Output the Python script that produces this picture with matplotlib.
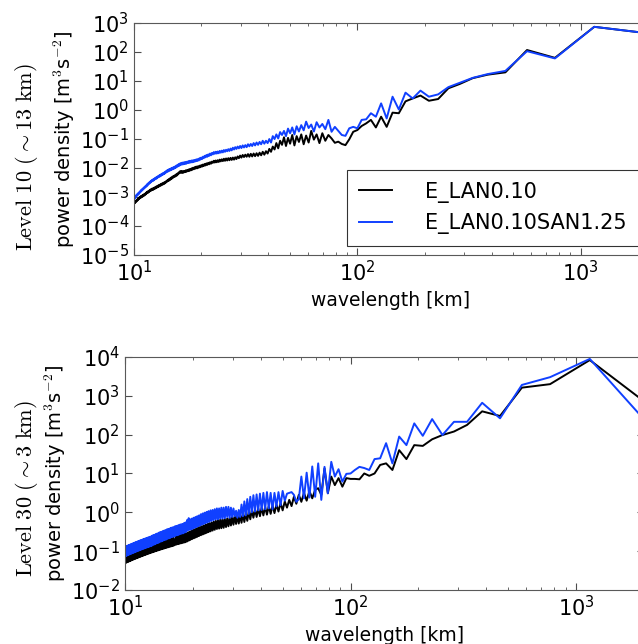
import numpy as np
import matplotlib
matplotlib.use("Agg")
import matplotlib.pyplot as plt
from matplotlib.ticker import FixedLocator, FuncFormatter

# Espectros de energia por comprimento de onda (dominio de ~2300 km, modo k = 1..230)
domain_km = 2300.0
wavenumber = np.arange(1, 231)
wavelength_km = domain_km / wavenumber

# log10 da densidade espectral, nivel 10 (~13 km)
lev10_ref = [
    2.59, 2.87, 1.80, 2.07, 1.30, 1.22, 1.10, 0.90, 0.75, 0.38,
    0.32, 0.50, 0.40, 0.30, -0.11, -0.09, -0.58, -0.23, -0.60, -0.34,
    -0.46, -0.55, -0.69, -0.75, -1.01, -1.21, -1.17, -1.09, -1.13, -0.98,
    -0.86, -1.06, -0.80, -1.14, -0.84, -1.02, -0.72, -1.12, -0.88, -1.18,
    -0.84, -1.10, -0.90, -1.22, -0.86, -1.16, -0.96, -1.24, -0.94, -1.20,
    -1.06, -1.32, -1.14, -1.36, -1.26, -1.44, -1.34, -1.50, -1.42, -1.54,
    -1.44, -1.56, -1.47, -1.58, -1.49, -1.59, -1.50, -1.60, -1.51, -1.61,
    -1.52, -1.61, -1.54, -1.62, -1.55, -1.64, -1.57, -1.66, -1.60, -1.69,
    -1.63, -1.71, -1.64, -1.72, -1.65, -1.73, -1.66, -1.74, -1.67, -1.75,
    -1.68, -1.76, -1.70, -1.77, -1.71, -1.79, -1.73, -1.80, -1.74, -1.81,
    -1.75, -1.82, -1.78, -1.85, -1.80, -1.87, -1.82, -1.89, -1.84, -1.91,
    -1.86, -1.93, -1.88, -1.95, -1.90, -1.97, -1.92, -1.99, -1.94, -2.01,
    -1.95, -2.02, -1.97, -2.04, -1.99, -2.06, -2.01, -2.08, -2.03, -2.10,
    -2.05, -2.11, -2.07, -2.13, -2.08, -2.14, -2.10, -2.16, -2.11, -2.17,
    -2.10, -2.16, -2.11, -2.18, -2.15, -2.22, -2.19, -2.26, -2.22, -2.29,
    -2.25, -2.31, -2.27, -2.34, -2.30, -2.37, -2.33, -2.40, -2.36, -2.43,
    -2.39, -2.45, -2.42, -2.48, -2.45, -2.51, -2.48, -2.54, -2.50, -2.56,
    -2.52, -2.58, -2.54, -2.60, -2.56, -2.62, -2.58, -2.64, -2.60, -2.66,
    -2.62, -2.68, -2.64, -2.70, -2.66, -2.72, -2.68, -2.74, -2.70, -2.76,
    -2.71, -2.77, -2.73, -2.79, -2.75, -2.81, -2.78, -2.84, -2.80, -2.86,
    -2.82, -2.88, -2.85, -2.91, -2.88, -2.94, -2.90, -2.96, -2.92, -2.98,
    -2.94, -3.00, -2.96, -3.02, -2.98, -3.04, -3.00, -3.06, -3.03, -3.09,
    -3.06, -3.12, -3.09, -3.15, -3.12, -3.18, -3.15, -3.21, -3.19, -3.25,
]
lev10_san = [
    2.59, 2.87, 1.78, 2.03, 1.35, 1.24, 1.11, 0.94, 0.79, 0.54,
    0.46, 0.67, 0.40, 0.60, 0.02, 0.46, -0.29, 0.23, -0.23, -0.11,
    -0.32, -0.34, -0.63, -0.58, -0.63, -0.89, -0.86, -0.72, -0.58, -0.75,
    -0.34, -0.66, -0.48, -0.60, -0.42, -0.74, -0.50, -0.62, -0.40, -0.70,
    -0.52, -0.74, -0.56, -0.84, -0.60, -0.80, -0.64, -0.90, -0.72, -0.86,
    -0.76, -0.98, -0.84, -1.00, -0.90, -1.12, -1.00, -1.14, -1.06, -1.16,
    -1.06, -1.18, -1.10, -1.20, -1.12, -1.22, -1.14, -1.24, -1.17, -1.25,
    -1.18, -1.28, -1.21, -1.29, -1.22, -1.31, -1.24, -1.32, -1.26, -1.34,
    -1.28, -1.36, -1.30, -1.39, -1.33, -1.41, -1.35, -1.42, -1.37, -1.44,
    -1.38, -1.46, -1.40, -1.47, -1.41, -1.49, -1.43, -1.50, -1.44, -1.51,
    -1.45, -1.53, -1.48, -1.56, -1.50, -1.58, -1.53, -1.61, -1.55, -1.63,
    -1.58, -1.66, -1.61, -1.69, -1.64, -1.71, -1.66, -1.74, -1.69, -1.76,
    -1.70, -1.77, -1.72, -1.79, -1.73, -1.80, -1.74, -1.81, -1.75, -1.82,
    -1.76, -1.83, -1.78, -1.85, -1.79, -1.86, -1.80, -1.87, -1.81, -1.88,
    -1.82, -1.89, -1.84, -1.92, -1.86, -1.94, -1.89, -1.97, -1.92, -2.00,
    -1.95, -2.02, -1.97, -2.04, -1.99, -2.06, -2.01, -2.08, -2.03, -2.10,
    -2.05, -2.12, -2.07, -2.14, -2.10, -2.17, -2.13, -2.20, -2.16, -2.22,
    -2.18, -2.24, -2.20, -2.27, -2.23, -2.29, -2.25, -2.31, -2.27, -2.33,
    -2.30, -2.36, -2.32, -2.38, -2.34, -2.40, -2.37, -2.43, -2.39, -2.45,
    -2.41, -2.47, -2.44, -2.50, -2.47, -2.53, -2.50, -2.56, -2.53, -2.60,
    -2.56, -2.63, -2.60, -2.66, -2.63, -2.69, -2.66, -2.72, -2.69, -2.75,
    -2.72, -2.78, -2.75, -2.81, -2.78, -2.84, -2.82, -2.88, -2.85, -2.91,
    -2.88, -2.94, -2.91, -2.97, -2.94, -3.01, -2.98, -3.05, -3.03, -3.10,
]

# log10 da densidade espectral, nivel 30 (~3 km)
lev30_ref = [
    2.59, 3.92, 3.30, 3.21, 2.48, 2.60, 2.25, 2.08, 1.99, 1.88,
    1.71, 1.73, 1.37, 1.60, 1.09, 1.26, 1.22, 1.00, 0.94, 1.00,
    0.85, 0.86, 0.86, 0.88, 0.66, 0.88, 0.70, 0.92, 0.49, 1.13,
    0.45, 0.62, 0.58, 0.36, 0.55, 0.30, 0.50, 0.27, 0.45, 0.22,
    0.40, 0.16, 0.32, 0.12, 0.28, 0.05, 0.24, 0.02, 0.20, -0.02,
    0.18, -0.04, 0.16, -0.06, 0.14, -0.08, 0.12, -0.10, 0.10, -0.12,
    0.08, -0.14, 0.06, -0.18, 0.02, -0.22, -0.02, -0.25, -0.04, -0.27,
    -0.06, -0.29, -0.08, -0.30, -0.10, -0.32, -0.12, -0.34, -0.14, -0.36,
    -0.16, -0.38, -0.17, -0.40, -0.18, -0.41, -0.19, -0.42, -0.20, -0.43,
    -0.22, -0.45, -0.24, -0.47, -0.26, -0.49, -0.28, -0.51, -0.30, -0.53,
    -0.32, -0.55, -0.34, -0.57, -0.36, -0.59, -0.38, -0.61, -0.40, -0.63,
    -0.42, -0.65, -0.44, -0.67, -0.46, -0.69, -0.48, -0.71, -0.50, -0.73,
    -0.52, -0.75, -0.54, -0.77, -0.55, -0.78, -0.56, -0.79, -0.57, -0.80,
    -0.58, -0.81, -0.59, -0.82, -0.60, -0.83, -0.61, -0.84, -0.70, -0.86,
    -0.63, -0.87, -0.64, -0.88, -0.65, -0.89, -0.66, -0.90, -0.67, -0.91,
    -0.68, -0.92, -0.69, -0.93, -0.70, -0.94, -0.71, -0.95, -0.72, -0.96,
    -0.73, -0.97, -0.74, -0.98, -0.75, -0.99, -0.76, -1.00, -0.77, -1.01,
    -0.78, -1.02, -0.79, -1.03, -0.80, -1.04, -0.81, -1.05, -0.82, -1.06,
    -0.83, -1.07, -0.84, -1.08, -0.85, -1.09, -0.86, -1.10, -0.87, -1.11,
    -0.88, -1.12, -0.89, -1.13, -0.90, -1.14, -0.91, -1.15, -0.92, -1.16,
    -0.93, -1.17, -0.94, -1.18, -0.95, -1.19, -0.96, -1.20, -0.97, -1.21,
    -0.98, -1.22, -0.99, -1.23, -1.00, -1.24, -1.01, -1.25, -1.02, -1.26,
    -1.03, -1.27, -1.04, -1.28, -1.05, -1.29, -1.06, -1.30, -1.08, -1.32,
]
lev30_san = [
    2.00, 3.95, 3.48, 3.28, 2.42, 2.82, 2.33, 2.33, 1.99, 2.40,
    1.97, 2.29, 1.73, 1.95, 1.26, 1.78, 1.39, 1.37, 1.09, 1.14,
    1.17, 1.09, 1.00, 0.99, 0.79, 1.11, 0.92, 1.30, 0.49, 1.17,
    0.32, 1.26, 0.40, 1.18, 0.38, 1.02, 0.36, 0.92, 0.34, 0.27,
    0.45, 0.52, 0.50, 0.48, 0.30, 0.55, 0.18, 0.52, 0.15, 0.50,
    0.08, 0.50, 0.10, 0.52, 0.08, 0.50, 0.06, 0.48, 0.05, 0.46,
    0.02, 0.44, 0.00, 0.40, -0.04, 0.34, -0.08, 0.28, -0.10, 0.20,
    -0.12, 0.06, -0.14, 0.04, -0.10, 0.10, -0.12, 0.12, -0.14, 0.14,
    -0.12, 0.14, -0.15, 0.12, -0.16, 0.12, -0.16, 0.10, -0.18, 0.10,
    -0.18, 0.08, -0.20, 0.06, -0.22, 0.05, -0.24, 0.03, -0.26, 0.01,
    -0.28, -0.01, -0.30, -0.03, -0.32, -0.05, -0.34, -0.08, -0.36, -0.10,
    -0.38, -0.12, -0.40, -0.14, -0.42, -0.16, -0.44, -0.18, -0.45, -0.15,
    -0.46, -0.20, -0.50, -0.26, -0.52, -0.28, -0.54, -0.30, -0.55, -0.31,
    -0.56, -0.32, -0.58, -0.34, -0.59, -0.35, -0.60, -0.36, -0.62, -0.38,
    -0.63, -0.39, -0.64, -0.40, -0.66, -0.42, -0.67, -0.43, -0.68, -0.44,
    -0.70, -0.46, -0.71, -0.47, -0.72, -0.48, -0.74, -0.50, -0.75, -0.51,
    -0.76, -0.52, -0.78, -0.54, -0.79, -0.55, -0.80, -0.56, -0.82, -0.58,
    -0.83, -0.59, -0.84, -0.60, -0.86, -0.62, -0.87, -0.63, -0.88, -0.64,
    -0.89, -0.65, -0.90, -0.66, -0.91, -0.67, -0.92, -0.68, -0.93, -0.69,
    -0.94, -0.70, -0.95, -0.71, -0.96, -0.72, -0.97, -0.73, -0.98, -0.74,
    -0.99, -0.75, -1.00, -0.76, -1.01, -0.77, -1.02, -0.78, -1.03, -0.79,
    -1.04, -0.80, -1.05, -0.81, -1.06, -0.82, -1.07, -0.83, -1.08, -0.84,
    -1.09, -0.85, -1.10, -0.86, -1.11, -0.87, -1.12, -0.88, -1.13, -0.90,
]

series_labels = ["E_LAN0.10", "E_LAN0.10SAN1.25"]
series_colors = ["black", "#1040ff"]
panel_titles = [r"$\mathrm{Level\ 10\ (}\sim\mathrm{13\ km)}$",
                r"$\mathrm{Level\ 30\ (}\sim\mathrm{3\ km)}$"]
xlim_km = (10, 2000)
ylims_exp = [(-5, 3), (-2, 4)]
xticks_exp = [1, 2, 3]

plt.rcParams["axes.unicode_minus"] = False
plt.rcParams["font.family"] = "DejaVu Sans"


def power_label(v, pos):
    return r"$\mathdefault{10^{%d}}$" % int(round(np.log10(v)))


fig = plt.figure(figsize=(6.38, 6.44), dpi=100)
ax_top = fig.add_axes([0.2100, 0.6040, 0.8056, 0.3602])
ax_bot = fig.add_axes([0.1959, 0.0839, 0.8135, 0.3618])

panels = [
    (ax_top, [lev10_ref, lev10_san], ylims_exp[0]),
    (ax_bot, [lev30_ref, lev30_san], ylims_exp[1]),
]

for ax, series, (ylo, yhi) in panels:
    for vals, lab, col in zip(series, series_labels, series_colors):
        ax.plot(wavelength_km, 10.0 ** np.array(vals), color=col, lw=1.4,
                label=lab)
    ax.set_xscale("log")
    ax.set_yscale("log")
    ax.set_xlim(*xlim_km)
    ax.set_ylim(10.0 ** ylo, 10.0 ** yhi)
    ax.xaxis.set_major_locator(FixedLocator([10.0 ** e for e in xticks_exp]))
    ax.yaxis.set_major_locator(FixedLocator([10.0 ** e for e in range(ylo, yhi + 1)]))
    ax.xaxis.set_major_formatter(FuncFormatter(power_label))
    ax.yaxis.set_major_formatter(FuncFormatter(power_label))
    ax.tick_params(which="both", direction="in", top=True, right=True,
                   labelsize=15, color="0.3")
    ax.tick_params(which="major", length=5, width=0.8)
    ax.tick_params(which="minor", length=2.5, width=0.6)
    for sp in ax.spines.values():
        sp.set_color("0.35")
    ax.set_xlabel("wavelength [km]", fontsize=13.5)
    ax.set_ylabel(r"power density [m$^3$s$^{-2}$]", fontsize=14,
                  math_fontfamily="cm", labelpad=2)

leg = ax_top.legend(loc="lower right", fontsize=15, frameon=True,
                    fancybox=False, handlelength=1.6, handletextpad=1.6,
                    borderpad=0.55, borderaxespad=0.45)
leg.get_frame().set_edgecolor("black")
leg.get_frame().set_linewidth(0.8)

fig.text(27 / 638, 0.756, panel_titles[0], rotation=90, fontsize=16,
         math_fontfamily="cm", ha="center", va="center")
fig.text(27 / 638, 0.2407, panel_titles[1], rotation=90, fontsize=16,
         math_fontfamily="cm", ha="center", va="center")

fig.savefig("out.png", dpi=100)
